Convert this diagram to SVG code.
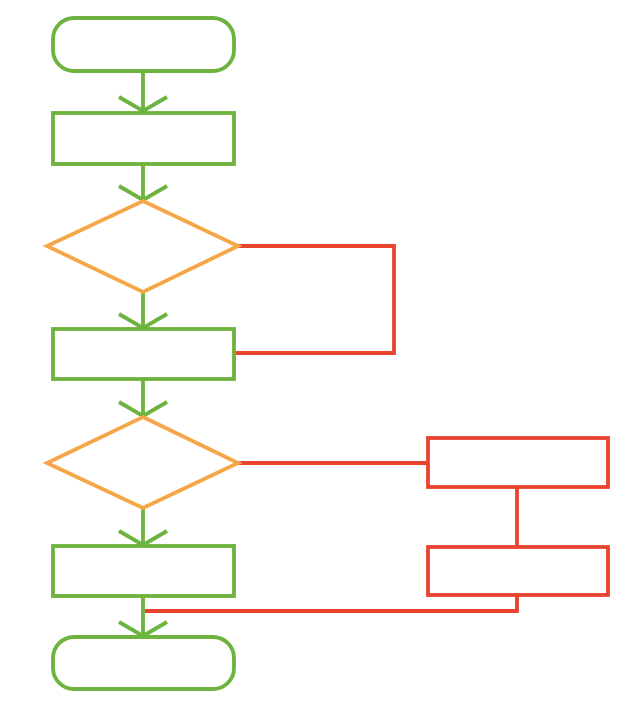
<svg xmlns="http://www.w3.org/2000/svg" width="636" height="715" viewBox="0 0 636 715">
  <style>
    .node-green { fill: #ffffff; stroke: #6DB33F; stroke-width: 3.8; }
    .node-orange { fill: #ffffff; stroke: #F5A646; stroke-width: 3.8; }
    .node-red { fill: #ffffff; stroke: #E8442F; stroke-width: 3.8; }
    .line-green { fill: none; stroke: #6DB33F; stroke-width: 3.8; }
    .line-red { fill: none; stroke: #E8442F; stroke-width: 3.8; }
  </style>
  <rect x="0" y="0" width="636" height="715" fill="#ffffff"/>
  <g id="connectors">
    <path class="line-green" d="M143,71 V111 M119,97 L143,111 L167,97"/>
    <path class="line-green" d="M143,164 V200 M119,186 L143,200 L167,186"/>
    <path class="line-green" d="M143,292 V328 M119,314 L143,328 L167,314"/>
    <path class="line-green" d="M143,379 V416 M119,402 L143,416 L167,402"/>
    <path class="line-green" d="M143,508 V545 M119,531 L143,545 L167,531"/>
    <path class="line-green" d="M143,596 V636 M119,622 L143,636 L167,622"/>
    <path class="line-red" d="M238,246 H394 V353 H234"/>
    <path class="line-red" d="M238,463 H428"/>
    <path class="line-red" d="M517,487 V547"/>
    <path class="line-red" d="M517,595 V611 H145"/>
  </g>
  <g id="start"><rect class="node-green" x="53" y="18" width="181" height="53" rx="21" ry="21"/></g>
  <g id="step1"><rect class="node-green" x="53" y="113" width="181" height="51"/></g>
  <g id="decision1"><path class="node-orange" d="M143,201 L238,246 L143,292 L47,246 Z"/></g>
  <g id="step2"><rect class="node-green" x="53" y="329" width="181" height="50"/></g>
  <g id="decision2"><path class="node-orange" d="M143,417 L238,463 L143,508 L47,463 Z"/></g>
  <g id="step3"><rect class="node-green" x="53" y="546" width="181" height="50"/></g>
  <g id="end"><rect class="node-green" x="53" y="637" width="181" height="52" rx="21" ry="21"/></g>
  <g id="alt1"><rect class="node-red" x="428" y="438" width="180" height="49"/></g>
  <g id="alt2"><rect class="node-red" x="428" y="547" width="180" height="48"/></g>
</svg>
